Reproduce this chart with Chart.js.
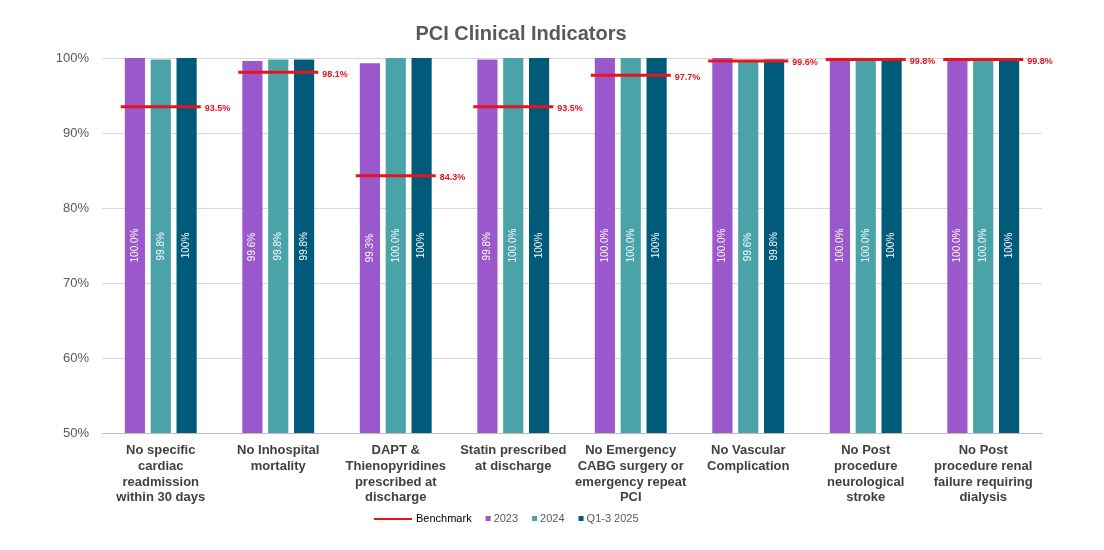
<!DOCTYPE html>
<html lang="en">
<head>
<meta charset="UTF-8">
<title>PCI Clinical Indicators</title>
<script src="https://cdn.jsdelivr.net/npm/chart.js"></script>
<style>
  html, body { margin: 0; padding: 0; background: #fff; }
  #wrap { width: 1104px; height: 550px; }
</style>
</head>
<body>
<div id="wrap"><canvas id="pciChart" width="1104" height="550"></canvas></div>
<script>
// data
const categories = [
  ["No specific", "cardiac", "readmission", "within 30 days"],
  ["No Inhospital", "mortality"],
  ["DAPT &", "Thienopyridines", "prescribed at", "discharge"],
  ["Statin prescribed", "at discharge"],
  ["No Emergency", "CABG surgery or", "emergency repeat", "PCI"],
  ["No Vascular", "Complication"],
  ["No Post", "procedure", "neurological", "stroke"],
  ["No Post", "procedure renal", "failure requiring", "dialysis"]
];
const benchmark = [93.5, 98.1, 84.3, 93.5, 97.7, 99.6, 99.8, 99.8];
const y2023 = [100.0, 99.6, 99.3, 99.8, 100.0, 100.0, 100.0, 100.0];
const y2024 = [99.8, 99.8, 100.0, 100.0, 100.0, 99.6, 100.0, 100.0];
const y2025 = [100, 99.8, 100, 100, 100, 99.8, 100, 100];
const yTicks = [50, 60, 70, 80, 90, 100];

const FONT = "'Liberation Sans', Arial, sans-serif";
const RED = '#e8141c';

// legend items (drawn by hand to get the line + small squares)
const legendItems = [
  { text: 'Benchmark', kind: 'line', color: RED, textColor: '#000' },
  { text: '2023', kind: 'box', color: '#9b58cc', textColor: '#595959' },
  { text: '2024', kind: 'box', color: '#4aa3a8', textColor: '#595959' },
  { text: 'Q1-3 2025', kind: 'box', color: '#005a7a', textColor: '#595959' }
];

function fmtVal(v, dsIndex) {
  // the 2025 series shows "100%" without decimal
  if (dsIndex === 3 && v === 100) return '100%';
  return v.toFixed(1) + '%';
}

const labelsPlugin = {
  id: 'labelsPlugin',
  afterDatasetsDraw(chart) {
    const ctx = chart.ctx;
    const bottom = chart.chartArea.bottom;
    // values inside the bars, rotated
    chart.data.datasets.forEach((ds, di) => {
      if (ds.type === 'line') return;
      const meta = chart.getDatasetMeta(di);
      meta.data.forEach((bar, i) => {
        const cy = (bar.y + Math.min(bar.base, bottom)) / 2;
        ctx.save();
        ctx.translate(bar.x, cy);
        ctx.rotate(-Math.PI / 2);
        ctx.font = '10px ' + FONT;
        ctx.fillStyle = '#ffffff';
        ctx.textAlign = 'center';
        ctx.textBaseline = 'middle';
        ctx.fillText(fmtVal(ds.data[i], di), 0, 0);
        ctx.restore();
      });
    });
    // benchmark labels to the right of the red lines
    const bMeta = chart.getDatasetMeta(0);
    bMeta.data.forEach((pt, i) => {
      ctx.save();
      ctx.font = 'bold 9px ' + FONT;
      ctx.fillStyle = RED;
      ctx.textAlign = 'left';
      ctx.textBaseline = 'middle';
      ctx.fillText(benchmark[i].toFixed(1) + '%', pt.x + 44, pt.y + 2);
      ctx.restore();
    });
  },
  afterDraw(chart) {
    const ctx = chart.ctx;
    let x = 374;
    const y = 519;
    ctx.save();
    ctx.font = '11px ' + FONT;
    ctx.textBaseline = 'middle';
    legendItems.forEach(item => {
      if (item.kind === 'line') {
        ctx.strokeStyle = item.color;
        ctx.lineWidth = 2;
        ctx.beginPath();
        ctx.moveTo(x, y);
        ctx.lineTo(x + 38, y);
        ctx.stroke();
        x += 42;
      } else {
        ctx.fillStyle = item.color;
        ctx.fillRect(x, y - 3, 5, 5);
        x += 8;
      }
      ctx.fillStyle = item.textColor;
      ctx.fillText(item.text, x, y);
      x += ctx.measureText(item.text).width + 14;
    });
    ctx.restore();
  }
};

new Chart(document.getElementById('pciChart'), {
  type: 'bar',
  data: {
    labels: categories,
    datasets: [
      {
        type: 'line',
        label: 'Benchmark',
        data: benchmark,
        showLine: false,
        pointStyle: 'line',
        pointRadius: 40,
        pointHoverRadius: 40,
        pointBorderWidth: 3,
        pointBorderColor: RED,
        borderColor: RED,
        order: 0
      },
      { label: '2023', data: y2023, backgroundColor: '#9b58cc', order: 1 },
      { label: '2024', data: y2024, backgroundColor: '#4aa3a8', order: 1 },
      { label: 'Q1-3 2025', data: y2025, backgroundColor: '#005a7a', order: 1 }
    ]
  },
  options: {
    responsive: false,
    animation: false,
    layout: { padding: { left: 0, right: 62, top: 0, bottom: 45 } },
    datasets: {
      bar: { categoryPercentage: 0.66, barPercentage: 0.78 }
    },
    scales: {
      x: {
        grid: { display: false, drawTicks: false },
        border: { color: '#bfbfbf' },
        ticks: {
          font: { family: FONT, size: 13, weight: 'bold' },
          color: '#404040',
          padding: 10,
          maxRotation: 0,
          autoSkip: false
        },
        afterFit(scale) { scale.height = 72; }
      },
      y: {
        min: 50,
        max: 100,
        afterBuildTicks(scale) { scale.ticks = yTicks.map(v => ({ value: v })); },
        grid: { color: '#d9d9d9', drawTicks: false },
        border: { display: false },
        ticks: {
          font: { family: FONT, size: 13 },
          color: '#595959',
          padding: 13,
          callback: v => v + '%'
        },
        afterFit(scale) { scale.width = 102; }
      }
    },
    plugins: {
      legend: { display: false },
      tooltip: { enabled: false },
      title: {
        display: true,
        text: 'PCI Clinical Indicators',
        color: '#595959',
        font: { family: FONT, size: 20, weight: 'bold' },
        padding: { top: 22, bottom: 12 }
      }
    }
  },
  plugins: [labelsPlugin]
});
</script>
</body>
</html>
